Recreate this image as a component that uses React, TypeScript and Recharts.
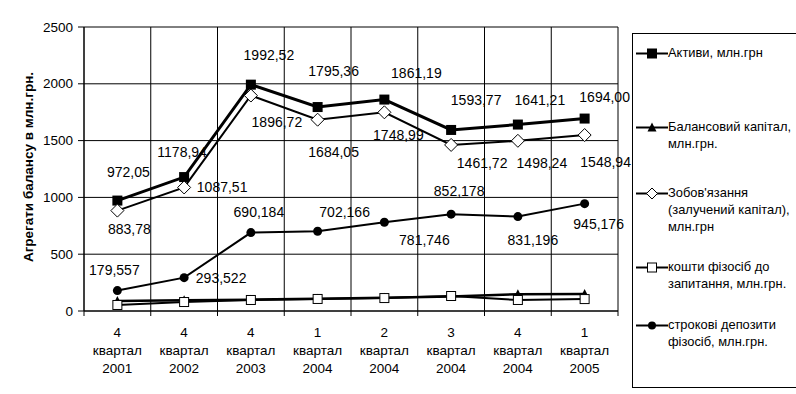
import React from 'react';
import { LineChart, Line, XAxis, YAxis, CartesianGrid } from 'recharts';

const quarters = ['4', '4', '4', '1', '2', '3', '4', '1'];
const years = ['2001', '2002', '2003', '2004', '2004', '2004', '2004', '2005'];
const quarterWord = 'квартал';
const aktyvy = [972.05, 1178.94, 1992.52, 1795.36, 1861.19, 1593.77, 1641.21, 1694.0];
const balansovyi = [88, 95, 100, 108, 117, 128, 148, 150];
const zobovyazannia = [883.78, 1087.51, 1896.72, 1684.05, 1748.99, 1461.72, 1498.24, 1548.94];
const koshty = [53, 79, 97, 106, 114, 132, 97, 105];
const strokovi = [179.557, 293.522, 690.184, 702.166, 781.746, 852.178, 831.196, 945.176];
const yTicks = [0, 500, 1000, 1500, 2000, 2500];
const xTicks = [0, 1, 2, 3, 4, 5, 6, 7, 8];

const seriesNames = {
  aktyvy: 'Активи, млн.грн',
  balansovyi: 'Балансовий капітал, млн.грн.',
  zobovyazannia: "Зобов'язання (залучений капітал), млн.грн",
  koshty: 'кошти фізосіб до запитання, млн.грн.',
  strokovi: 'строкові депозити фізосіб, млн.грн.',
};

// label offsets (styling): [dx, dy] from point to label centre
const aktyvyLabelOffsets = [[11, -29], [-2, -25], [18, -30], [16, -36], [32, -27], [25, -30], [22, -25], [20, -22]];
const zobovLabelOffsets = [[12, 18], [38, 0], [26, 26], [16, 32], [14, 23], [31, 18], [24, 22], [21, 27]];
const strokoviLabelOffsets = [[-3, -21], [37, 0], [8, -21], [27, -19], [40, 18], [8, -23], [15, 23], [14, 20]];

const data = quarters.map((q, i) => ({
  x: i + 0.5,
  aktyvy: aktyvy[i],
  balansovyi: balansovyi[i],
  zobovyazannia: zobovyazannia[i],
  koshty: koshty[i],
  strokovi: strokovi[i],
}));

const FONT = '"Liberation Sans", Arial, sans-serif';
const PLOT_LEFT = 84;
const PLOT_RIGHT = 618;
const BAND = (PLOT_RIGHT - PLOT_LEFT) / 8;

const fmt = (v: number, d: number) => v.toFixed(d).replace('.', ',');

const makeLabel = (offsets: number[][], decimals: number) => (props: any) => {
  const { x, y, index, value } = props;
  if (x == null || y == null) return null;
  const o = offsets[index] || [0, -15];
  return (
    <text
      key={`l-${index}`}
      x={x + o[0]}
      y={y + o[1]}
      textAnchor="middle"
      dominantBaseline="central"
      fontSize={14}
      fontFamily={FONT}
      fill="#000"
    >
      {fmt(Number(value), decimals)}
    </text>
  );
};

const FilledSquare = (props: any) => {
  const { cx, cy, index } = props;
  if (cx == null) return null;
  return <rect key={`fs-${index}`} x={cx - 5} y={cy - 5} width={10} height={10} fill="#000" />;
};
const Triangle = (props: any) => {
  const { cx, cy, index } = props;
  if (cx == null) return null;
  return <polygon key={`tr-${index}`} points={`${cx},${cy - 5} ${cx + 4.5},${cy + 4} ${cx - 4.5},${cy + 4}`} fill="#000" />;
};
const Diamond = (props: any) => {
  const { cx, cy, index } = props;
  if (cx == null) return null;
  return (
    <polygon
      key={`dm-${index}`}
      points={`${cx},${cy - 6.5} ${cx + 6.5},${cy} ${cx},${cy + 6.5} ${cx - 6.5},${cy}`}
      fill="#fff"
      stroke="#000"
      strokeWidth={1}
    />
  );
};
const OpenSquare = (props: any) => {
  const { cx, cy, index } = props;
  if (cx == null) return null;
  return <rect key={`os-${index}`} x={cx - 4.5} y={cy - 4.5} width={9} height={9} fill="#fff" stroke="#000" strokeWidth={1} />;
};
const Circle = (props: any) => {
  const { cx, cy, index } = props;
  if (cx == null) return null;
  return <circle key={`ci-${index}`} cx={cx} cy={cy} r={4.5} fill="#000" />;
};

const XTick = (props: any) => {
  const { x, y, payload } = props;
  const i = payload.value;
  if (i >= 8) return null;
  const cx = x + BAND / 2;
  return (
    <g>
      {[quarters[i], quarterWord, years[i]].map((t, k) => (
        <text
          key={k}
          x={cx}
          y={y + 14 + k * 18}
          textAnchor="middle"
          dominantBaseline="central"
          fontSize={13.5}
          fontFamily={FONT}
          fill="#000"
        >
          {t}
        </text>
      ))}
    </g>
  );
};

const YTick = (props: any) => {
  const { x, y, payload } = props;
  return (
    <text x={x} y={y} textAnchor="end" dominantBaseline="central" fontSize={13.5} fontFamily={FONT} fill="#000">
      {payload.value}
    </text>
  );
};

const legendMarker = (key: string) => {
  switch (key) {
    case 'aktyvy':
      return <rect x={11} y={3.5} width={10} height={10} fill="#000" />;
    case 'balansovyi':
      return <polygon points="16,3.5 20.5,12.5 11.5,12.5" fill="#000" />;
    case 'zobovyazannia':
      return <polygon points="16,3 21.5,8.5 16,14 10.5,8.5" fill="#fff" stroke="#000" />;
    case 'koshty':
      return <rect x={11.5} y={4} width={9} height={9} fill="#fff" stroke="#000" />;
    default:
      return <circle cx={16} cy={8.5} r={4} fill="#000" />;
  }
};

const legendItems: { key: string; lines: string[]; top: number }[] = [
  { key: 'aktyvy', lines: ['Активи, млн.грн'], top: 20 },
  { key: 'balansovyi', lines: ['Балансовий капітал,', 'млн.грн.'], top: 94 },
  { key: 'zobovyazannia', lines: ["Зобов'язання", '(залучений капітал),', 'млн.грн'], top: 160 },
  { key: 'koshty', lines: ['кошти фізосіб до', 'запитання, млн.грн.'], top: 234 },
  { key: 'strokovi', lines: ['строкові депозити', 'фізосіб, млн.грн.'], top: 292 },
];

const LegendBox = () => (
  <div
    style={{
      position: 'absolute',
      left: 632,
      top: 33,
      width: 170,
      height: 355,
      border: '1px solid #000',
      boxSizing: 'border-box',
      background: '#fff',
      fontFamily: FONT,
      fontSize: 12.9,
      color: '#000',
    }}
  >
    {legendItems.map((it) => (
      <div key={it.key} style={{ position: 'absolute', left: 0, top: it.top - 10, width: 170 }}>
        <svg width={32} height={17} style={{ position: 'absolute', left: 3, top: 1 }}>
          <line x1={0} y1={8.5} x2={32} y2={8.5} stroke="#000" strokeWidth={2} />
          {legendMarker(it.key)}
        </svg>
        <div style={{ position: 'absolute', left: 35, top: 0, lineHeight: '17px', whiteSpace: 'nowrap' }}>
          {it.lines.map((l, k) => (
            <div key={k}>{l}</div>
          ))}
        </div>
      </div>
    ))}
  </div>
);

const YLabel = () => (
  <text
    x={28}
    y={167}
    transform="rotate(-90, 28, 167)"
    textAnchor="middle"
    dominantBaseline="central"
    fontSize={13.5}
    fontWeight="bold"
    fontFamily={FONT}
    fill="#000"
  >
    Агрегати балансу в млн.грн.
  </text>
);

export default function App() {
  return (
    <div style={{ position: 'absolute', left: 0, top: 0, width: 796, height: 394, background: '#fff', overflow: 'hidden' }}>
      <LineChart
        width={796}
        height={394}
        data={data}
        margin={{ top: 27, right: 178, bottom: 0, left: 24 }}
        style={{ fontFamily: FONT }}
      >
        <CartesianGrid stroke="#000" strokeWidth={1} />
        <XAxis
          dataKey="x"
          type="number"
          domain={[0, 8]}
          ticks={xTicks}
          interval={0}
          tick={<XTick />}
          tickSize={5}
          tickMargin={2}
          axisLine={{ stroke: '#000' }}
          tickLine={{ stroke: '#000' }}
          height={83}
        />
        <YAxis
          type="number"
          domain={[0, 2500]}
          ticks={yTicks}
          interval={0}
          width={60}
          tick={<YTick />}
          tickSize={6}
          tickMargin={5}
          axisLine={{ stroke: '#000' }}
          tickLine={{ stroke: '#000' }}
          label={<YLabel />}
        />
        <Line
          dataKey="aktyvy"
          name={seriesNames.aktyvy}
          stroke="#000"
          strokeWidth={3}
          dot={<FilledSquare />}
          activeDot={false}
          isAnimationActive={false}
          label={makeLabel(aktyvyLabelOffsets, 2)}
        />
        <Line
          dataKey="balansovyi"
          name={seriesNames.balansovyi}
          stroke="#000"
          strokeWidth={2.5}
          dot={<Triangle />}
          activeDot={false}
          isAnimationActive={false}
        />
        <Line
          dataKey="zobovyazannia"
          name={seriesNames.zobovyazannia}
          stroke="#000"
          strokeWidth={2}
          dot={<Diamond />}
          activeDot={false}
          isAnimationActive={false}
          label={makeLabel(zobovLabelOffsets, 2)}
        />
        <Line
          dataKey="koshty"
          name={seriesNames.koshty}
          stroke="#000"
          strokeWidth={2}
          dot={<OpenSquare />}
          activeDot={false}
          isAnimationActive={false}
        />
        <Line
          dataKey="strokovi"
          name={seriesNames.strokovi}
          stroke="#000"
          strokeWidth={2}
          dot={<Circle />}
          activeDot={false}
          isAnimationActive={false}
          label={makeLabel(strokoviLabelOffsets, 3)}
        />
      </LineChart>
      <LegendBox />
    </div>
  );
}
